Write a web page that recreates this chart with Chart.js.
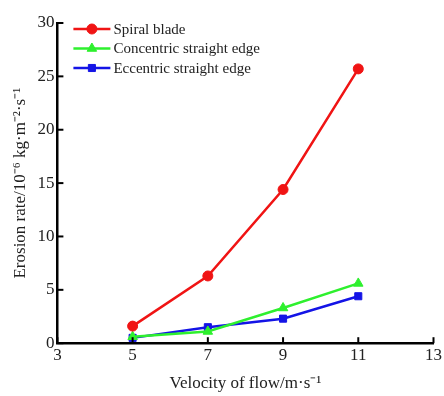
<!DOCTYPE html>
<html>
<head>
<meta charset="utf-8">
<script src="https://cdn.jsdelivr.net/npm/chart.js@4"></script>
<style>
  html, body { margin: 0; padding: 0; background: #fff; }
  #wrap { width: 444px; height: 396px; }
</style>
</head>
<body>
<div id="wrap"><canvas id="erosionChart"></canvas></div>
<script>
// flow velocity (m/s) and erosion rate (10^-6 kg/m2/s) per blade type
const velocity = [5, 7, 9, 11];
const spiralBlade = [1.6, 6.3, 14.4, 25.7];
const concentricEdge = [0.6, 1.1, 3.3, 5.6];
const eccentricEdge = [0.5, 1.5, 2.3, 4.4];
const seriesNames = ["Spiral blade", "Concentric straight edge", "Eccentric straight edge"];

const FONT = "'Liberation Serif', 'Times New Roman', serif";

function toPoints(ys) {
  return velocity.map((x, i) => ({ x: x, y: ys[i] }));
}

function series(label, data, color, style) {
  return {
    label: label,
    data: toPoints(data),
    borderColor: color,
    backgroundColor: color,
    borderWidth: 2.5,
    pointStyle: style,
    pointRadius: style === 'triangle' ? 5.5 : 5,
    pointBorderWidth: 1,
    tension: 0
  };
}

// inward tick marks on both axes
const innerTicks = {
  id: 'innerTicks',
  afterDraw(chart) {
    const ctx = chart.ctx;
    const xs = chart.scales.x, ys = chart.scales.y;
    const area = chart.chartArea;
    ctx.save();
    ctx.strokeStyle = '#000';
    ctx.lineWidth = 2;
    xs.ticks.forEach(t => {
      const px = xs.getPixelForValue(t.value);
      ctx.beginPath();
      ctx.moveTo(px, area.bottom);
      ctx.lineTo(px, area.bottom - 6);
      ctx.stroke();
    });
    ys.ticks.forEach(t => {
      const py = ys.getPixelForValue(t.value);
      ctx.beginPath();
      ctx.moveTo(area.left, py);
      ctx.lineTo(area.left + 6, py);
      ctx.stroke();
    });
    ctx.restore();
  }
};

// legend drawn as line + marker, top left inside the plot
const lineLegend = {
  id: 'lineLegend',
  afterDraw(chart) {
    const ctx = chart.ctx;
    const area = chart.chartArea;
    const x0 = area.left + 16, len = 37, gap = 3;
    ctx.save();
    ctx.font = '15px ' + FONT;
    ctx.textBaseline = 'middle';
    chart.data.datasets.forEach((ds, i) => {
      const y = area.top + 6 + i * 19.5;
      ctx.strokeStyle = ds.borderColor;
      ctx.fillStyle = ds.borderColor;
      ctx.lineWidth = 2.5;
      ctx.beginPath();
      ctx.moveTo(x0, y);
      ctx.lineTo(x0 + len, y);
      ctx.stroke();
      ctx.lineWidth = 1;
      Chart.helpers.drawPoint(ctx, {
        pointStyle: ds.pointStyle,
        radius: ds.pointRadius,
        borderWidth: 1,
        rotation: 0
      }, x0 + len / 2, y);
      ctx.fillStyle = '#222';
      ctx.fillText(ds.label, x0 + len + gap, y + 1);
    });
    ctx.restore();
  }
};

new Chart('erosionChart', {
  type: 'line',
  data: {
    datasets: [
      series(seriesNames[0], spiralBlade, '#f01414', 'circle'),
      series(seriesNames[1], concentricEdge, '#2ef02e', 'triangle'),
      series(seriesNames[2], eccentricEdge, '#1414e6', 'rect')
    ]
  },
  plugins: [innerTicks, lineLegend],
  options: {
    responsive: true,
    maintainAspectRatio: false,
    animation: false,
    layout: { padding: { top: 23, right: 10, left: 10, bottom: 2 } },
    plugins: {
      legend: { display: false },
      tooltip: { enabled: false }
    },
    scales: {
      x: {
        type: 'linear',
        min: 3,
        max: 13,
        ticks: { stepSize: 2, color: '#222', font: { family: FONT, size: 17 }, padding: 2 },
        grid: { display: false, drawTicks: false },
        border: { color: '#000', width: 2.5 },
        title: {
          display: true,
          text: 'Velocity of flow/m·s⁻¹',
          color: '#222',
          font: { family: FONT, size: 17 },
          padding: { top: 6, bottom: 0 }
        }
      },
      y: {
        min: 0,
        max: 30,
        ticks: { stepSize: 5, color: '#222', font: { family: FONT, size: 17 }, padding: 3 },
        grid: { display: false, drawTicks: false },
        border: { color: '#000', width: 2.5 },
        title: {
          display: true,
          text: 'Erosion rate/10⁻⁶ kg·m⁻²·s⁻¹',
          color: '#222',
          font: { family: FONT, size: 17 },
          padding: { top: 0, bottom: 4 }
        }
      }
    }
  }
});
</script>
</body>
</html>
